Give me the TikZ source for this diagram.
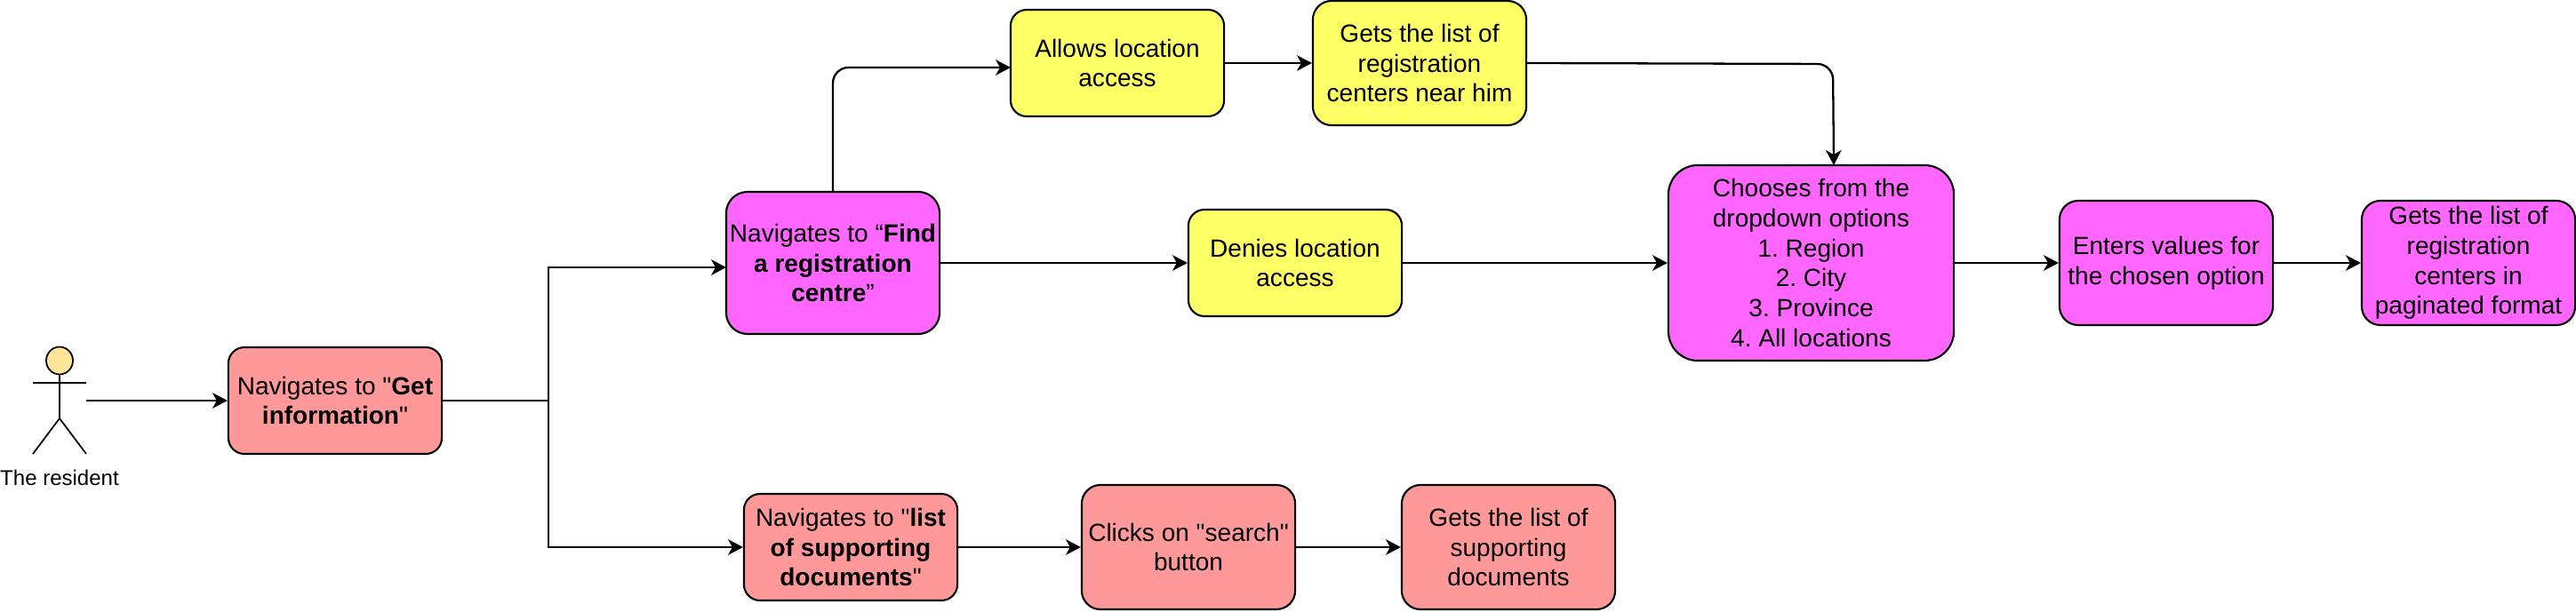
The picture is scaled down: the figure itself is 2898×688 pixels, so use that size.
\documentclass[tikz,border=0pt]{standalone}
\usepackage{fontspec}
\setmainfont{Liberation Sans}[Ligatures=TeXOff]
\usetikzlibrary{arrows.meta,shapes.geometric}
\definecolor{boxred}{HTML}{FF9999}
\definecolor{boxyellow}{HTML}{FFFF66}
\definecolor{boxpink}{HTML}{FF66FF}
\definecolor{headfill}{HTML}{FFE599}
\tikzset{
    boxh/.style = {minimum height = #1*0.01cm, rounded corners = #1*0.0427pt},
    flowbox/.style = {draw, line width = 0.6pt, inner sep = 0pt, minimum width = 2.4cm, align = center, font = \fontsize{7.97}{9.56}\selectfont\frenchspacing},
    redbox/.style = {flowbox, fill = boxred},
    yellowbox/.style = {flowbox, fill = boxyellow},
    pinkbox/.style = {flowbox, fill = boxpink},
    flow/.style = {-{Stealth[length = 4.8pt, width = 5pt, inset = 1.4pt]}, line width = 0.65pt},
    stick/.style = {line width = 0.5pt}
}
\begin{document}
\begin{tikzpicture}[x = 0.01cm, y = -0.01cm]
    \useasboundingbox (0,0) rectangle (2898,688);
    \node[draw, stick, fill = headfill, ellipse, inner sep = 0pt, minimum width = 0.3cm, minimum height = 0.31cm] (head) at (67,406) {};
    \coordinate (hip) at (67,471);
    \draw[stick] (head.south) -- (hip) -- (37,511);
    \draw[stick] (hip) -- (97,511);
    \draw[stick] (37,431) -- (97,431);
    \node[font = \fontsize{6.83}{8.2}\selectfont] (resident) at (67,538) {The resident};
    \coordinate (residentout) at (97,451);

    \node[redbox, boxh = 120] (getinfo) at (377,451) {Navigates to "\textbf{Get}\\\textbf{information}"};
    \node[pinkbox, boxh = 160] (find) at (937,296) {Navigates to “\textbf{Find}\\\textbf{a registration}\\\textbf{centre}”};
    \node[yellowbox, boxh = 120] (allows) at (1257,71) {Allows location\\access};
    \node[yellowbox, boxh = 140] (listnear) at (1597,71) {Gets the list of\\registration\\centers near him};
    \node[yellowbox, boxh = 120] (denies) at (1457,296) {Denies location\\access};
    \node[pinkbox, boxh = 220, minimum width = 3.21cm] (chooses) at (2037.5,296) {Chooses from the\\dropdown options\\1. Region\\2. City\\3. Province\\4. All locations};
    \node[pinkbox, boxh = 140] (enters) at (2437,296) {Enters values for\\the chosen option};
    \node[pinkbox, boxh = 140] (paginated) at (2777,296) {Gets the list of\\registration\\centers in\\paginated format};
    \node[redbox, boxh = 120] (listdocs) at (957,616) {Navigates to "\textbf{list}\\\textbf{of supporting}\\\textbf{documents}"};
    \node[redbox, boxh = 140] (search) at (1337,616) {Clicks on "search"\\button};
    \node[redbox, boxh = 140] (getsdocs) at (1697,616) {Gets the list of\\supporting\\documents};

    \coordinate (branch) at (617,451);
    \coordinate (findin) at (817,301);
    \coordinate (allowsin) at (1137,76);
    \coordinate (bend) at (2062,72);
    \coordinate (choosesin) at (2063,186);

    \draw[flow] (residentout) -- (getinfo);
    \draw[line width = 0.65pt] (getinfo) -- (branch);
    \draw[flow] (branch) |- (findin);
    \draw[flow] (branch) |- (listdocs);
    \draw[flow, rounded corners = 5pt] (find.north) |- (allowsin);
    \draw[flow] (allows) -- (listnear);
    \draw[flow, rounded corners = 5pt] (listnear.east) -- (bend) -- (choosesin);
    \draw[flow] (find) -- (denies);
    \draw[flow] (denies) -- (chooses);
    \draw[flow] (chooses) -- (enters);
    \draw[flow] (enters) -- (paginated);
    \draw[flow] (listdocs) -- (search);
    \draw[flow] (search) -- (getsdocs);
\end{tikzpicture}
\end{document}
